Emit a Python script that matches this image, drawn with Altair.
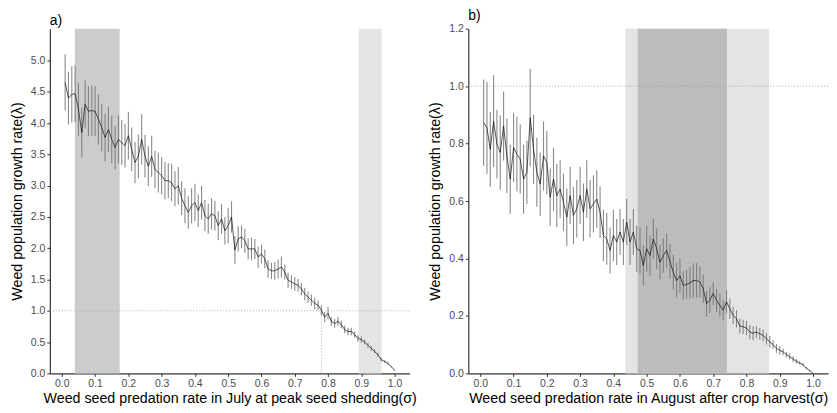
import altair as alt
import pandas as pd

sigma = [round(0.01 * i, 2) for i in range(1, 101)]

a_mean = [4.65, 4.40, 4.46, 4.47, 4.22, 3.85, 4.30, 4.19, 4.20, 4.19,
          4.06, 3.93, 3.77, 3.90, 3.74, 3.61, 3.74, 3.69, 3.64, 3.80,
          3.58, 3.37, 3.47, 3.74, 3.47, 3.31, 3.47, 3.26, 3.21, 3.16,
          3.08, 3.08, 3.05, 2.95, 3.00, 2.80, 2.68, 2.57, 2.68, 2.73,
          2.60, 2.73, 2.52, 2.47, 2.55, 2.52, 2.36, 2.47, 2.28, 2.36,
          2.50, 1.97, 2.15, 2.18, 2.12, 1.99, 1.99, 1.99, 1.86, 1.91,
          1.83, 1.67, 1.64, 1.64, 1.67, 1.70, 1.62, 1.49, 1.46, 1.43,
          1.41, 1.35, 1.27, 1.22, 1.17, 1.12, 1.09, 1.01, 0.90, 0.96,
          0.83, 0.80, 0.83, 0.78, 0.70, 0.67, 0.67, 0.62, 0.56, 0.54,
          0.50, 0.45, 0.40, 0.35, 0.30, 0.22, 0.19, 0.16, 0.11, 0.05]

a_err = [0.45, 0.42, 0.45, 0.45, 0.42, 0.40, 0.38, 0.40, 0.40, 0.40,
         0.40, 0.38, 0.38, 0.36, 0.38, 0.35, 0.38, 0.36, 0.35, 0.38,
         0.35, 0.33, 0.35, 0.40, 0.34, 0.32, 0.33, 0.30, 0.32, 0.30,
         0.30, 0.28, 0.30, 0.28, 0.30, 0.27, 0.28, 0.26, 0.28, 0.30,
         0.26, 0.27, 0.25, 0.24, 0.25, 0.24, 0.23, 0.24, 0.22, 0.28,
         0.25, 0.22, 0.20, 0.18, 0.19, 0.17, 0.18, 0.16, 0.17, 0.15,
         0.15, 0.14, 0.13, 0.14, 0.15, 0.17, 0.12, 0.12, 0.11, 0.11,
         0.10, 0.10, 0.10, 0.09, 0.09, 0.09, 0.08, 0.08, 0.08, 0.10,
         0.07, 0.07, 0.07, 0.06, 0.06, 0.06, 0.06, 0.05, 0.05, 0.05,
         0.04, 0.04, 0.04, 0.03, 0.03, 0.03, 0.02, 0.02, 0.01, 0.01]

b_mean = [0.873, 0.855, 0.780, 0.878, 0.798, 0.769, 0.861, 0.757, 0.676, 0.786,
          0.763, 0.746, 0.676, 0.700, 0.890, 0.780, 0.700, 0.659, 0.757, 0.734,
          0.613, 0.676, 0.619, 0.642, 0.596, 0.544, 0.619, 0.550, 0.573, 0.619,
          0.561, 0.642, 0.573, 0.590, 0.607, 0.561, 0.480, 0.468, 0.428, 0.480,
          0.457, 0.492, 0.457, 0.527, 0.457, 0.492, 0.434, 0.428, 0.376, 0.434,
          0.410, 0.468, 0.434, 0.387, 0.410, 0.428, 0.390, 0.352, 0.323, 0.340,
          0.306, 0.310, 0.315, 0.323, 0.323, 0.318, 0.295, 0.243, 0.255, 0.278,
          0.254, 0.237, 0.220, 0.249, 0.225, 0.202, 0.190, 0.165, 0.162, 0.158,
          0.144, 0.140, 0.144, 0.138, 0.132, 0.121, 0.110, 0.100, 0.087, 0.080,
          0.075, 0.065, 0.058, 0.050, 0.042, 0.036, 0.030, 0.018, 0.010, 0.000]

b_err = [0.15, 0.16, 0.13, 0.16, 0.12, 0.13, 0.12, 0.13, 0.12, 0.12,
         0.13, 0.12, 0.12, 0.11, 0.17, 0.12, 0.12, 0.11, 0.12, 0.11,
         0.10, 0.11, 0.11, 0.10, 0.10, 0.10, 0.10, 0.10, 0.10, 0.10,
         0.10, 0.10, 0.10, 0.10, 0.10, 0.09, 0.09, 0.09, 0.08, 0.09,
         0.08, 0.08, 0.08, 0.08, 0.08, 0.08, 0.08, 0.08, 0.07, 0.08,
         0.07, 0.07, 0.07, 0.06, 0.06, 0.06, 0.06, 0.06, 0.06, 0.06,
         0.05, 0.05, 0.055, 0.06, 0.06, 0.055, 0.05, 0.045, 0.045, 0.04,
         0.04, 0.04, 0.035, 0.04, 0.035, 0.03, 0.03, 0.025, 0.025, 0.025,
         0.025, 0.025, 0.02, 0.02, 0.02, 0.02, 0.02, 0.015, 0.015, 0.015,
         0.012, 0.01, 0.01, 0.01, 0.008, 0.006, 0.005, 0.004, 0.003, 0.002]

a_bands_x1 = [0.039, 0.892]
a_bands_x2 = [0.174, 0.961]
a_bands_col = ["#cccccc", "#e5e5e5"]

b_bands_x1 = [0.436, 0.473]
b_bands_x2 = [0.868, 0.741]
b_bands_col = ["#e4e4e4", "#bcbcbc"]

a_yticks = [0.0, 0.5, 1.0, 1.5, 2.0, 2.5, 3.0, 3.5, 4.0, 4.5, 5.0]
b_yticks = [0.0, 0.2, 0.4, 0.6, 0.8, 1.0, 1.2]
xticks = [0.0, 0.1, 0.2, 0.3, 0.4, 0.5, 0.6, 0.7, 0.8, 0.9, 1.0]

W, H = 361, 346
FONT = "Liberation Sans"


def panel(mean, err, bx1, bx2, bcol, ydom, yticks, xtitle, title, vline):
    df = pd.DataFrame({"sigma": sigma, "mean": mean, "err": err})
    df["lo"] = df["mean"] - df["err"]
    df["hi"] = df["mean"] + df["err"]
    bands = pd.DataFrame({"x1": bx1, "x2": bx2, "col": bcol})

    xs = alt.Scale(domain=[-0.036, 1.045], nice=False, zero=False)
    ys = alt.Scale(domain=ydom, nice=False, zero=False)
    xax = alt.Axis(values=xticks, format=".1f", title=xtitle, labelOverlap=False,
                   titlePadding=3, tickCount=11)
    yax = alt.Axis(values=yticks, format=".1f", title="Weed population growth rate(λ)",
                   labelOverlap=False, titlePadding=6, tickCount=len(yticks))

    def X(f):
        return alt.X(f, scale=xs, axis=xax)

    def Y(f):
        return alt.Y(f, scale=ys, axis=yax)

    rect = alt.Chart(bands).mark_rect().encode(
        x=X("x1:Q"),
        x2="x2:Q",
        y=alt.value(0),
        y2=alt.value(H),
        color=alt.Color("col:N", scale=None),
    )
    hline = alt.Chart(pd.DataFrame({"y": [1.0]})).mark_rule(
        color="#9a9a9a", strokeDash=[1, 2], strokeWidth=0.8
    ).encode(y=Y("y:Q"))
    layers = [rect, hline]
    if vline is not None:
        vl = alt.Chart(pd.DataFrame({"x": [vline], "y0": [0.0], "y1": [1.0]})).mark_rule(
            color="#9a9a9a", strokeDash=[1, 2], strokeWidth=0.8
        ).encode(x=X("x:Q"), y=Y("y0:Q"), y2="y1:Q")
        layers.append(vl)
    bars = alt.Chart(df).mark_rule(color="#757575", strokeWidth=1.1, opacity=0.85).encode(
        x=X("sigma:Q"),
        y=Y("lo:Q"),
        y2="hi:Q",
    )
    line = alt.Chart(df).mark_line(color="#111111", strokeWidth=0.7).encode(
        x=X("sigma:Q"),
        y=Y("mean:Q"),
    )
    layers += [bars, line]
    return alt.layer(*layers).properties(
        width=W, height=H,
        title=alt.TitleParams(title, anchor="start", frame="group", fontSize=14, font=FONT,
                              fontWeight="normal", offset=1, color="#000000"),
    )


pa = panel(a_mean, a_err, a_bands_x1, a_bands_x2, a_bands_col, [0, 5.51], a_yticks,
           "Weed seed predation rate in July at peak seed shedding(σ)", "a)", 0.78)
pb = panel(b_mean, b_err, b_bands_x1, b_bands_x2, b_bands_col, [0, 1.2], b_yticks,
           "Weed seed predation rate in August after crop harvest(σ)", "b)", None)

chart = alt.hconcat(pa, pb, spacing=59, bounds="flush").properties(
    padding={"left": 2, "top": 0, "right": 0, "bottom": 0}
).configure_view(stroke=None).configure_axis(
    grid=False,
    domainColor="#333333",
    domainWidth=1.2,
    tickColor="#333333",
    tickSize=3,
    labelColor="#4d4d4d",
    labelFont=FONT,
    labelFontSize=10.5,
    labelPadding=2,
    labelOverlap=False,
    titleFont=FONT,
    titleFontSize=14.3,
    titleFontWeight="normal",
    titleColor="#000000",
)

chart.save("out.html", embed_options={"renderer": "svg", "actions": False})
